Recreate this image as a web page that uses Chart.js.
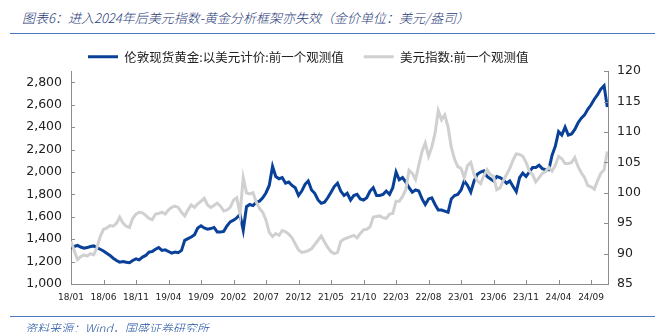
<!DOCTYPE html>
<html><head><meta charset="utf-8">
<script src="https://cdn.jsdelivr.net/npm/chart.js@4.4.0/dist/chart.umd.min.js"></script>
<style>
html,body{margin:0;padding:0;background:#fff;width:663px;height:332px;overflow:hidden;position:relative;}
#wrap{position:absolute;left:0;top:0;width:663px;height:332px;}
.title{position:absolute;left:22px;top:9px;font:italic 300 13px "Noto Sans CJK SC";color:#1f3a78;white-space:nowrap;line-height:18px;}
.rule{position:absolute;left:10px;width:645px;height:0;border-top:1.5px solid #4a78c0;}
.src{position:absolute;left:25px;top:320px;font:italic 300 12px "Noto Sans CJK SC";color:#2050a0;white-space:nowrap;line-height:16px;}
</style></head><body>
<div class="title">图表6：进入2024年后美元指数-黄金分析框架亦失效（金价单位：美元/盎司）</div>
<div class="rule" style="top:33px"></div>
<div id="wrap"><canvas id="c"></canvas></div>
<div class="rule" style="top:316px"></div>
<div class="src">资料来源：Wind，国盛证券研究所</div>
<script>
const goldLabel = '伦敦现货黄金:以美元计价:前一个观测值';
const dxyLabel = '美元指数:前一个观测值';
const xTickLabels = ['18/01','18/06','18/11','19/04','19/09','20/02','20/07','20/12','21/05','21/10','22/03','22/08','23/01','23/06','23/11','24/04','24/09'];
const goldTicks = [1000,1200,1400,1600,1800,2000,2200,2400,2600,2800];
const dxyTicks = [85,90,95,100,105,110,115,120];
const dates = [
'2018-01-01','2018-01-16','2018-02-01','2018-02-16','2018-03-01','2018-03-16','2018-04-01','2018-04-16','2018-05-01','2018-05-16','2018-06-01','2018-06-16','2018-07-01','2018-07-16','2018-08-01','2018-08-16','2018-09-01','2018-09-16','2018-10-01','2018-10-16','2018-11-01','2018-11-16','2018-12-01','2018-12-16',
'2019-01-01','2019-01-16','2019-02-01','2019-02-16','2019-03-01','2019-03-16','2019-04-01','2019-04-16','2019-05-01','2019-05-16','2019-06-01','2019-06-16','2019-07-01','2019-07-16','2019-08-01','2019-08-16','2019-09-01','2019-09-16','2019-10-01','2019-10-16','2019-11-01','2019-11-16','2019-12-01','2019-12-16',
'2020-01-01','2020-01-16','2020-02-01','2020-02-16','2020-03-01','2020-03-16','2020-04-01','2020-04-16','2020-05-01','2020-05-16','2020-06-01','2020-06-16','2020-07-01','2020-07-16','2020-08-01','2020-08-16','2020-09-01','2020-09-16','2020-10-01','2020-10-16','2020-11-01','2020-11-16','2020-12-01','2020-12-16',
'2021-01-01','2021-01-16','2021-02-01','2021-02-16','2021-03-01','2021-03-16','2021-04-01','2021-04-16','2021-05-01','2021-05-16','2021-06-01','2021-06-16','2021-07-01','2021-07-16','2021-08-01','2021-08-16','2021-09-01','2021-09-16','2021-10-01','2021-10-16','2021-11-01','2021-11-16','2021-12-01','2021-12-16',
'2022-01-01','2022-01-16','2022-02-01','2022-02-16','2022-03-01','2022-03-16','2022-04-01','2022-04-16','2022-05-01','2022-05-16','2022-06-01','2022-06-16','2022-07-01','2022-07-16','2022-08-01','2022-08-16','2022-09-01','2022-09-16','2022-10-01','2022-10-16','2022-11-01','2022-11-16','2022-12-01','2022-12-16',
'2023-01-01','2023-01-16','2023-02-01','2023-02-16','2023-03-01','2023-03-16','2023-04-01','2023-04-16','2023-05-01','2023-05-16','2023-06-01','2023-06-16','2023-07-01','2023-07-16','2023-08-01','2023-08-16','2023-09-01','2023-09-16','2023-10-01','2023-10-16','2023-11-01','2023-11-16','2023-12-01','2023-12-16',
'2024-01-01','2024-01-16','2024-02-01','2024-02-16','2024-03-01','2024-03-16','2024-04-01','2024-04-16','2024-05-01','2024-05-16','2024-06-01','2024-06-16','2024-07-01','2024-07-16','2024-08-01','2024-08-16','2024-09-01','2024-09-16','2024-10-01','2024-10-16','2024-11-01','2024-11-16'
];
const goldValues = [
1320,1335,1345,1330,1320,1325,1335,1340,1325,1310,
1295,1275,1255,1230,1210,1195,1200,1195,1190,1210,
1225,1215,1240,1255,1285,1290,1310,1325,1300,1305,
1290,1275,1285,1280,1300,1390,1405,1420,1440,1500,
1520,1500,1490,1495,1505,1465,1465,1470,1520,1555,
1570,1590,1620,1480,1690,1710,1700,1730,1740,1770,
1815,1880,2050,1960,1940,1950,1900,1910,1880,1860,
1790,1830,1890,1920,1840,1810,1750,1720,1730,1770,
1820,1870,1900,1830,1790,1810,1750,1790,1800,1760,
1750,1770,1830,1860,1790,1790,1800,1830,1800,1860,
2000,1930,1950,1910,1860,1820,1840,1830,1760,1710,
1760,1770,1710,1660,1660,1650,1640,1760,1790,1800,
1840,1920,1880,1820,1920,1980,2000,2010,1960,1940,
1920,1960,1950,1930,1900,1920,1870,1825,1950,1990,
1960,2000,2040,2040,2060,2030,2020,2020,2150,2230,
2360,2330,2400,2330,2340,2380,2440,2480,2510,2560,
2600,2650,2690,2740,2770,2580
];
const dxyValues = [
92.0,90.5,89.0,89.5,89.8,89.6,90.0,89.8,91.0,92.8,
94.0,94.2,94.6,94.5,95.0,96.0,95.0,94.5,94.3,95.8,
96.5,96.8,96.7,96.3,95.8,95.6,96.5,96.6,96.8,96.5,
97.2,97.6,97.8,97.6,96.8,96.2,97.2,98.0,97.6,98.2,
98.6,99.1,98.0,97.6,97.9,98.3,97.8,97.0,97.2,97.6,
98.8,99.2,96.5,102.5,100.0,99.8,100.0,98.5,97.4,96.8,
95.5,93.5,92.8,93.3,93.0,93.8,93.6,93.2,92.6,91.6,
90.6,90.2,90.3,90.5,90.8,91.5,92.2,92.9,91.9,91.0,
90.3,90.0,90.2,92.0,92.4,92.6,92.8,93.0,92.6,93.3,
93.9,94.0,94.4,96.0,96.1,96.2,95.9,95.8,96.5,96.6,
98.6,98.6,99.4,100.5,103.7,103.2,102.2,104.5,106.8,108.2,
106.0,107.5,109.8,113.5,112.0,112.8,110.8,107.5,105.5,104.3,
104.0,102.5,104.5,105.0,103.0,102.0,101.5,102.8,103.8,103.0,
102.7,100.5,100.8,102.0,103.0,104.0,105.4,106.4,106.3,106.0,
105.0,103.6,103.0,101.8,102.5,103.2,103.5,104.2,103.6,104.5,
106.0,105.6,104.8,104.8,105.0,105.8,104.3,103.3,102.5,101.2,
101.0,100.6,102.0,103.2,103.8,106.8
];

function monthOffset(d){const p=d.split('-').map(Number);return (p[0]-2018)*12+(p[1]-1)+(p[2]-1)/30.5;}
const xs = dates.map(monthOffset);

const legendShift = {id:'legendShift', afterLayout(chart){const l=chart.legend; if(!l)return; const dx=68, dy=1.8; l.left+=dx; l.right+=dx; l.top+=dy; l.bottom+=dy;}};
const innerTicks = {id:'innerTicks', afterDraw(chart){
  const ctx=chart.ctx, a=chart.chartArea; ctx.save(); ctx.strokeStyle='#8c8c8c'; ctx.lineWidth=1;
  const sy=chart.scales.y, sy1=chart.scales.y1, sx=chart.scales.x;
  sy.ticks.forEach(t=>{const p=Math.round(sy.getPixelForValue(t.value))+0.5;ctx.beginPath();ctx.moveTo(a.left,p);ctx.lineTo(a.left+4,p);ctx.stroke();});
  sy1.ticks.forEach(t=>{const p=Math.round(sy1.getPixelForValue(t.value))+0.5;ctx.beginPath();ctx.moveTo(a.right,p);ctx.lineTo(a.right-4,p);ctx.stroke();});
  sx.ticks.forEach(t=>{const p=Math.round(sx.getPixelForValue(t.value))+0.5;ctx.beginPath();ctx.moveTo(p,a.bottom);ctx.lineTo(p,a.bottom-4);ctx.stroke();});
  ctx.restore();
}};

const tickFont={family:'"DejaVu Sans"',size:12.5};
new Chart(document.getElementById('c'),{
  type:'line',
  data:{datasets:[
    {label:goldLabel,data:xs.map((x,i)=>({x,y:goldValues[i]})),borderColor:'#0a4198',backgroundColor:'#0a4198',borderWidth:3,pointRadius:0,tension:0,yAxisID:'y',order:1},
    {label:dxyLabel,data:xs.map((x,i)=>({x,y:dxyValues[i]})),borderColor:'#d0d0d0',backgroundColor:'#d0d0d0',borderWidth:3,pointRadius:0,tension:0,yAxisID:'y1',order:0}
  ]},
  options:{
    responsive:true,maintainAspectRatio:false,animation:false,
    layout:{padding:{top:28.7,left:0,right:0,bottom:0}},
    plugins:{
      tooltip:{enabled:false},
      legend:{align:'start',labels:{boxWidth:30,boxHeight:3,padding:20,color:'#222',font:{family:'"Noto Sans CJK SC"',size:12.5},
        sort:(a,b)=>a.datasetIndex-b.datasetIndex,
        generateLabels(chart){const it=Chart.defaults.plugins.legend.labels.generateLabels(chart);it.forEach(i=>{i.lineWidth=0;i.fillStyle=i.strokeStyle;});return it;}}}
    },
    scales:{
      x:{type:'linear',min:0,max:82.6,grid:{display:false,drawTicks:false},border:{display:true,color:'#8c8c8c'},
        ticks:{autoSkip:false,maxRotation:0,padding:8,color:'#222',font:{family:'"DejaVu Sans"',size:9},callback:v=>xTickLabels[Math.round(v/5)]??''},
        afterBuildTicks(s){s.ticks=xTickLabels.map((l,i)=>({value:i*5}));},
        afterFit(s){s.height=48;}},
      y:{position:'left',min:1000,max:2900,grid:{display:false,drawTicks:false},border:{display:true,color:'#8c8c8c'},
        ticks:{autoSkip:false,padding:9,color:'#222',font:tickFont,callback:v=>v.toLocaleString('en-US')},
        afterBuildTicks(s){s.ticks=goldTicks.map(v=>({value:v}));},
        afterFit(s){s.width=71;}},
      y1:{position:'right',min:85,max:120,grid:{display:false,drawTicks:false},border:{display:true,color:'#8c8c8c'},
        ticks:{autoSkip:false,padding:9,color:'#222',font:tickFont},
        afterBuildTicks(s){s.ticks=dxyTicks.map(v=>({value:v}));},
        afterFit(s){s.width=55;}}
    }
  },
  plugins:[legendShift,innerTicks]
});
</script>
</body></html>
